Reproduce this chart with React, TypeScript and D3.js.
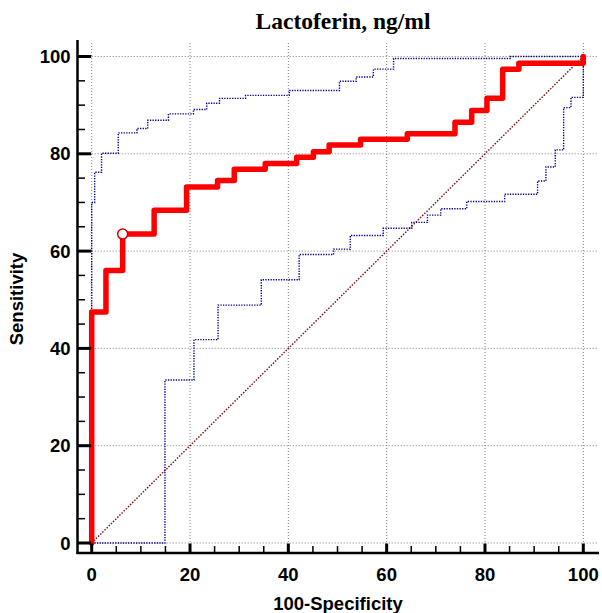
import React from "react";
import * as d3 from "d3";

const rocX = [0, 0, 2.9, 2.9, 6.3, 6.3, 12.7, 12.7, 19.3, 19.3, 25.6, 25.6, 29.0, 29.0, 35.3, 35.3, 41.7, 41.7, 45.1, 45.1, 48.3, 48.3, 54.7, 54.7, 64.2, 64.2, 73.9, 73.9, 77.3, 77.3, 80.4, 80.4, 83.6, 83.6, 86.9, 86.9, 100, 100];
const rocY = [0, 47.5, 47.5, 56.0, 56.0, 63.5, 63.5, 68.4, 68.4, 73.2, 73.2, 74.5, 74.5, 76.8, 76.8, 78.0, 78.0, 79.3, 79.3, 80.4, 80.4, 81.8, 81.8, 83.0, 83.0, 84.1, 84.1, 86.5, 86.5, 88.9, 88.9, 91.4, 91.4, 97.4, 97.4, 98.6, 98.6, 100];

const upperX = [0, 0, 0.6, 0.6, 2.0, 2.0, 5.4, 5.4, 9.2, 9.2, 11.4, 11.4, 15.6, 15.6, 20.7, 20.7, 23.4, 23.4, 26.0, 26.0, 31.3, 31.3, 40.2, 40.2, 50.4, 50.4, 53.8, 53.8, 57.3, 57.3, 61.4, 61.4, 85.1, 85.1, 100];
const upperY = [0, 70.0, 70.0, 76.2, 76.2, 80.1, 80.1, 84.3, 84.3, 85.2, 85.2, 86.9, 86.9, 88.2, 88.2, 89.1, 89.1, 90.4, 90.4, 91.4, 91.4, 92.0, 92.0, 93.0, 93.0, 94.9, 94.9, 95.8, 95.8, 97.4, 97.4, 99.6, 99.6, 100, 100];

const lowerX = [0, 14.9, 14.9, 20.8, 20.8, 25.7, 25.7, 34.5, 34.5, 42.2, 42.2, 49.2, 49.2, 52.6, 52.6, 59.3, 59.3, 65.1, 65.1, 68.3, 68.3, 71.0, 71.0, 76.3, 76.3, 84.0, 84.0, 90.7, 90.7, 92.4, 92.4, 94.3, 94.3, 96.0, 96.0, 97.5, 97.5, 100, 100];
const lowerY = [0, 0, 33.5, 33.5, 41.8, 41.8, 48.9, 48.9, 54.1, 54.1, 59.3, 59.3, 60.4, 60.4, 63.2, 63.2, 64.7, 64.7, 65.9, 65.9, 67.4, 67.4, 68.7, 68.7, 70.2, 70.2, 71.7, 71.7, 74.4, 74.4, 77.3, 77.3, 80.8, 80.8, 89.5, 89.5, 91.6, 91.6, 100];

const criterion = { x: 6.3, y: 63.5 };
const majorTicks = [0, 20, 40, 60, 80, 100];
const minorTicks = d3.range(0, 101, 5).filter((v) => v % 20 !== 0);

const title = "Lactoferin, ng/ml";
const xTitle = "100-Specificity";
const yTitle = "Sensitivity";

export default function App() {
  const W = 602, H = 613;
  const x = d3.scaleLinear().domain([0, 100]).range([91.7, 583.3]);
  const y = d3.scaleLinear().domain([0, 100]).range([543, 56.5]);
  const axisX = 77.5; // y-axis line position
  const axisY = 553; // x-axis line position
  const plotRight = 598;
  const plotTop = 43;

  const line = d3
    .line<[number, number]>()
    .x((d) => x(d[0]))
    .y((d) => y(d[1]));
  const zip = (a: number[], b: number[]) => a.map((v, i) => [v, b[i]] as [number, number]);

  const sans = "'Liberation Sans', Arial, sans-serif";
  const fs = 18.5;

  return (
    <svg width={W} height={H} style={{ position: "absolute", left: 0, top: 0, background: "#fff" }}>
      {/* grid */}
      <g stroke="#808080" strokeWidth={1} strokeDasharray="1,2">
        {majorTicks.map((t) => (
          <line key={"gx" + t} x1={x(t)} x2={x(t)} y1={plotTop} y2={y(0)} />
        ))}
        {majorTicks.map((t) => (
          <line key={"gy" + t} x1={x(0)} x2={plotRight} y1={y(t)} y2={y(t)} />
        ))}
      </g>
      {/* diagonal */}
      <path d={line([[0, 0], [100, 100]]) || ""} fill="none" stroke="#7a1010" strokeWidth={1.4} strokeDasharray="1.5,1.5" />
      {/* confidence bounds */}
      <path d={line(zip(upperX, upperY)) || ""} fill="none" stroke="#000090" strokeWidth={1.4} strokeDasharray="1.3,1.3" />
      <path d={line(zip(lowerX, lowerY)) || ""} fill="none" stroke="#000090" strokeWidth={1.4} strokeDasharray="1.3,1.3" />
      {/* ROC curve */}
      <path d={line(zip(rocX, rocY)) || ""} fill="none" stroke="#ff0000" strokeWidth={5.5} strokeLinejoin="round" strokeLinecap="round" />
      <circle cx={x(criterion.x)} cy={y(criterion.y)} r={5} fill="#fff" stroke="#cc0000" strokeWidth={1.5} />
      {/* axes */}
      <line x1={axisX} x2={axisX} y1={40} y2={axisY + 1} stroke="#000" strokeWidth={2.5} />
      <line x1={axisX - 1} x2={plotRight + 1} y1={axisY} y2={axisY} stroke="#000" strokeWidth={2.5} />
      {majorTicks.map((t) => (
        <line key={"myt" + t} x1={axisX} x2={x(0) - 0.5} y1={y(t)} y2={y(t)} stroke="#000" strokeWidth={3} />
      ))}
      {minorTicks.map((t) => (
        <line key={"nyt" + t} x1={axisX} x2={axisX + 7.5} y1={y(t)} y2={y(t)} stroke="#000" strokeWidth={1.5} />
      ))}
      {majorTicks.map((t) => (
        <line key={"mxt" + t} x1={x(t)} x2={x(t)} y1={axisY} y2={y(0) + 0.5} stroke="#000" strokeWidth={3} />
      ))}
      {minorTicks.map((t) => (
        <line key={"nxt" + t} x1={x(t)} x2={x(t)} y1={axisY} y2={axisY - 7} stroke="#000" strokeWidth={1.5} />
      ))}
      {/* tick labels */}
      <g fontFamily={sans} fontWeight="bold" fontSize={fs} fill="#000">
        {majorTicks.map((t) => (
          <text key={"lyt" + t} x={70.5} y={y(t) + 6.5} textAnchor="end">
            {t}
          </text>
        ))}
        {majorTicks.map((t) => (
          <text key={"lxt" + t} x={x(t)} y={581} textAnchor="middle">
            {t}
          </text>
        ))}
        <text x={338} y={610} textAnchor="middle">
          {xTitle}
        </text>
        <text transform={`translate(23,299) rotate(-90)`} textAnchor="middle">
          {yTitle}
        </text>
      </g>
      <text x={343} y={29} textAnchor="middle" fontFamily="'Liberation Serif', 'Times New Roman', serif" fontWeight="bold" fontSize={23.5}>
        {title}
      </text>
    </svg>
  );
}
